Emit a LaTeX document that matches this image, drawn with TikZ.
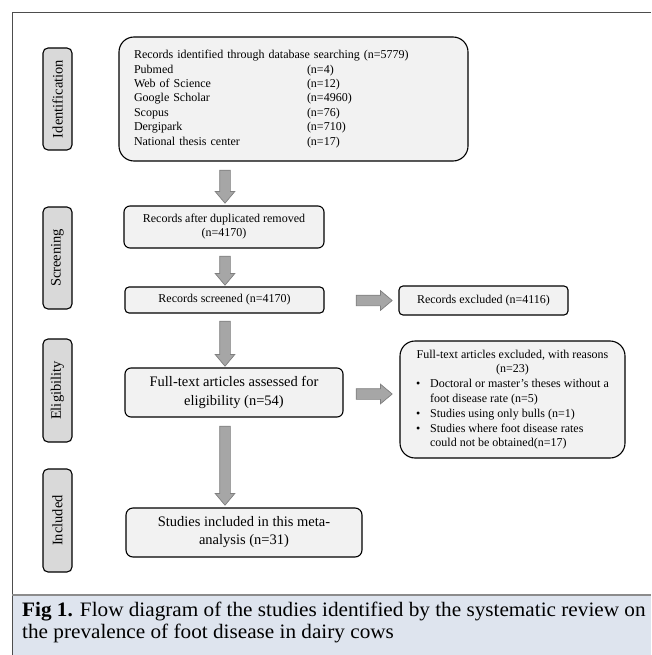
\documentclass[tikz,border=0pt]{standalone}
\usepackage{fontspec}
\setmainfont{Liberation Serif}
\newfontfamily\capfont[FakeStretch=1.035]{Liberation Serif}
\usetikzlibrary{shapes.arrows,calc}
\definecolor{boxfill}{HTML}{F2F2F2}
\definecolor{lblfill}{HTML}{D9D9D9}
\definecolor{arrfill}{HTML}{A6A6A6}
\definecolor{arredge}{HTML}{7F7F7F}
\definecolor{capfill}{HTML}{DEE4EE}
\definecolor{framecol}{HTML}{4D4D4D}
\definecolor{capline}{HTML}{8C8C8C}
\begin{document}
\begin{tikzpicture}[x=1pt,y=-1pt,
  box/.style={draw=black, line width=1.1pt, fill=boxfill, inner sep=0pt, align=center},
  lbl/.style={draw=black, line width=1.1pt, fill=lblfill, rounded corners=5pt, minimum width=29pt, inner sep=0pt, font=\fontsize{14.5}{17}\selectfont},
  fatarrow/.style={single arrow, draw=arredge, fill=arrfill, line width=0.7pt, inner xsep=0pt, inner ysep=5pt, minimum width=0pt, single arrow head extend=4.5pt, single arrow head indent=0pt, single arrow tip angle=80},
  downarrow/.style={fatarrow, rotate=-90},
  captext/.style={anchor=base west, inner sep=0pt, font=\capfont\fontsize{20.5}{22}\selectfont}
]
\useasboundingbox (0,0) rectangle (651,655);
% frame and caption band
\fill[capfill] (12,595) rectangle (651,655);
\draw[framecol, line width=0.8pt] (12,655) -- (12,12) -- (651,12);
\draw[capline, line width=1.5pt] (12,595) -- (651,595);
\node[captext] (cap1) at (22,616) {\textbf{Fig 1.} Flow diagram of the studies identified by the systematic review on};
\node[captext] (cap2) at (22,638) {the prevalence of foot disease in dairy cows};

% stage labels
\node[lbl, minimum height=102pt] (lid) at (57.5,99) {\rotatebox{90}{Identification}};
\node[lbl, minimum height=102pt] (lscr) at (57.5,258) {\rotatebox{90}{Screening}};
\node[lbl, minimum height=103pt] (leli) at (57.5,390.5) {\rotatebox{90}{Eligibility}};
\node[lbl, minimum height=103pt] (linc) at (57.5,520.5) {\rotatebox{90}{Included}};

% main boxes
\node[box, rounded corners=15pt, minimum width=349pt, minimum height=124pt, text width=319pt, align=left,
      font=\fontsize{12}{14.4}\selectfont] (b1) at (293.5,99) {%
\begin{tabular}{@{}p{173pt}@{}l@{}}
\multicolumn{2}{@{}l@{}}{Records identified through database searching (n=5779)}\\
Pubmed & (n=4)\\
Web of Science & (n=12)\\
Google Scholar & (n=4960)\\
Scopus & (n=76)\\
Dergipark & (n=710)\\
National thesis center & (n=17)
\end{tabular}};
\node[box, rounded corners=6pt, minimum width=200pt, minimum height=42pt, font=\fontsize{12}{14}\selectfont] (b2) at (224,227) {Records after duplicated removed\\(n=4170)};
\node[box, rounded corners=4pt, minimum width=199pt, minimum height=26pt, font=\fontsize{12}{14}\selectfont] (b3) at (224.5,300) {Records screened (n=4170)};
\node[box, rounded corners=6pt, minimum width=218pt, minimum height=49pt, font=\fontsize{14.5}{19}\selectfont] (b4) at (234,392.5) {Full-text articles assessed for\\eligibility (n=54)};
\node[box, rounded corners=7pt, minimum width=236pt, minimum height=49pt, font=\fontsize{14.5}{18}\selectfont] (b5) at (244,532.5) {Studies included in this meta-\\analysis (n=31)};

% right boxes
\node[box, rounded corners=4pt, minimum width=169pt, minimum height=29pt, font=\fontsize{12}{14}\selectfont] (r1) at (483.5,300.5) {Records excluded (n=4116)};
\node[box, rounded corners=15pt, minimum width=225pt, minimum height=117pt, align=center,
      font=\fontsize{12}{14.8}\selectfont] (r2) at (512.5,399.5) {%
\begin{tabular}{@{}p{14pt}@{}l@{}}
\multicolumn{2}{@{}c@{}}{Full-text articles excluded, with reasons}\\
\multicolumn{2}{@{}c@{}}{(n=23)}\\
\textbullet & Doctoral or master's theses without a\\
 & foot disease rate (n=5)\\
\textbullet & Studies using only bulls (n=1)\\
\textbullet & Studies where foot disease rates\\
 & could not be obtained(n=17)
\end{tabular}};

% block arrows
\coordinate (ax) at (225,0);
\coordinate (m1) at ($(b1.south)!0.5!(b2.north)$);
\coordinate (m2) at ($(b2.south)!0.5!(b3.north)$);
\coordinate (m3) at ($(b3.south)!0.5!(b4.north)$);
\coordinate (m4) at ($(b4.south)!0.5!(b5.north)$);
\node[downarrow, minimum height=33pt] (a1) at (ax |- m1) {};
\node[downarrow, minimum height=29pt] (a2) at (ax |- m2) {};
\node[downarrow, minimum height=45pt] (a3) at (ax |- m3) {};
\node[downarrow, minimum height=79pt] (a4) at (ax |- m4) {};
\coordinate (hx) at (371,0);
\node[fatarrow, minimum height=36pt] (h1) at (hx |- r1.west) {};
\coordinate (h2y) at (0,394);
\node[fatarrow, minimum height=36pt] (h2) at (hx |- h2y) {};
\end{tikzpicture}
\end{document}
